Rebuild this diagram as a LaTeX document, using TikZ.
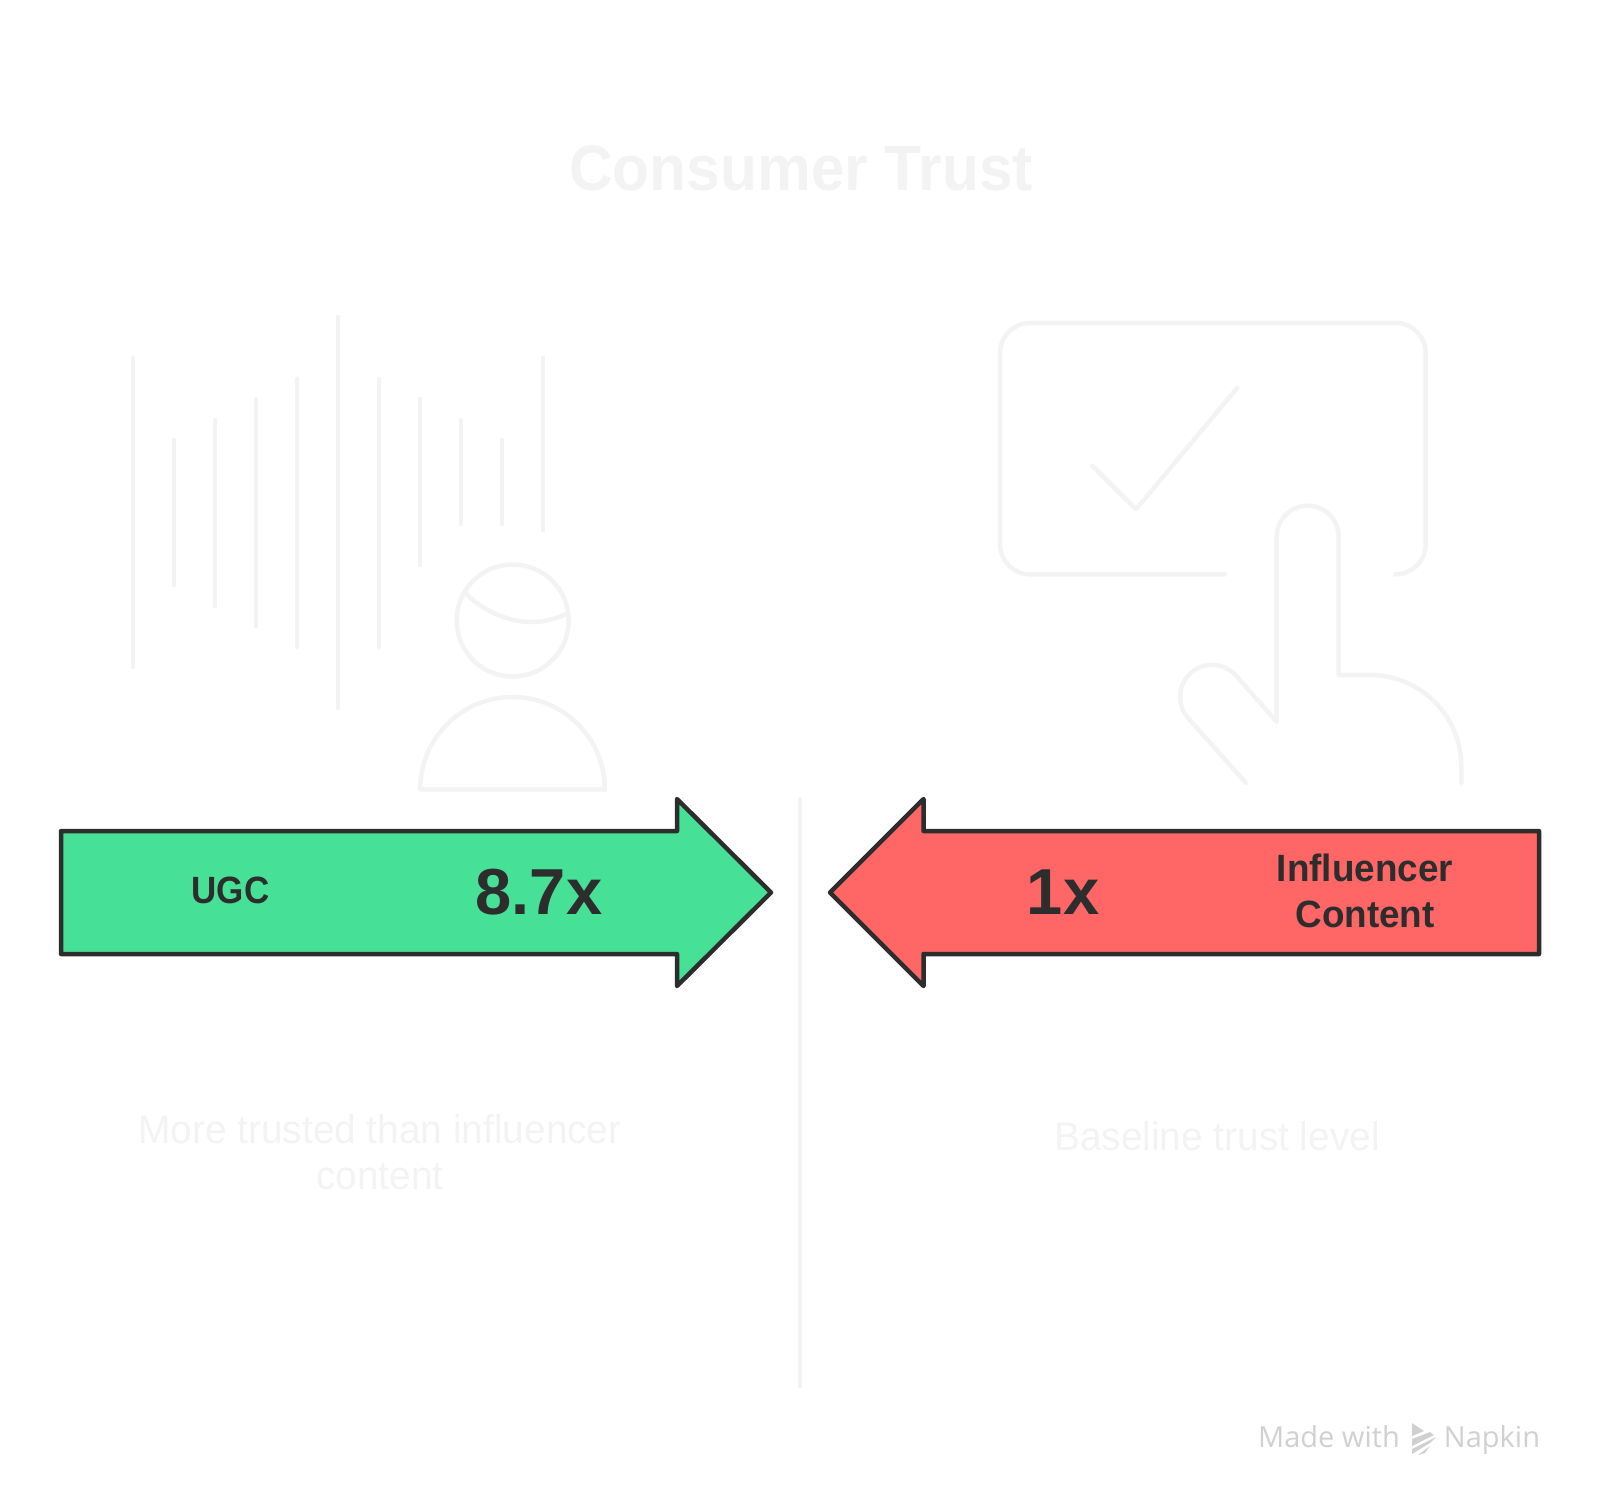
\documentclass[tikz,border=0pt]{standalone}
\usepackage{fontspec}
\usepackage{tikz}
\setmainfont{Liberation Sans}
\newfontfamily\narrowfont[FakeStretch=0.92]{Liberation Sans}
\newfontfamily\midfont[FakeStretch=0.945]{Liberation Sans}
\newfontfamily\widefont[FakeStretch=0.97]{Liberation Sans}
\newfontfamily\markfont{Open Sans}
\definecolor{ghost}{HTML}{F3F3F3}
\definecolor{ink}{HTML}{2D2D2D}
\definecolor{greenarrow}{HTML}{46E096}
\definecolor{redarrow}{HTML}{FF6666}
\definecolor{markgray}{HTML}{D0D0D0}
\tikzset{
    faint/.style={draw=ghost, line width=4.5pt, line cap=round, line join=round},
    bigarrow/.style={draw=ink, line width=4.5pt, line join=round},
    lbl/.style={inner sep=0pt, text=ink, align=center, font=\widefont\bfseries\fontsize{38}{46}\selectfont},
    bignum/.style={inner sep=0pt, text=ink, anchor=base, font=\bfseries\fontsize{65}{65}\selectfont},
    ghosttext/.style={inner sep=0pt, text=ghost, align=center, font=\widefont\fontsize{40}{46}\selectfont},
    marktext/.style={inner sep=0pt, text=markgray, anchor=base, font=\markfont\fontsize{29}{29}\selectfont}
}
\begin{document}
\begin{tikzpicture}[x=1pt, y=-1pt]
    \useasboundingbox (0,0) rectangle (1600,1508);

    \node[ghosttext, anchor=base, font=\midfont\bfseries\fontsize{64}{64}\selectfont] (title) at (801,190) {Consumer Trust};

    \foreach \x/\ya/\yb in {133/358/667, 174/440/585, 215/420/606, 256/399/626, 297/379/647, 338/317/708, 379/379/647, 420/399/565, 461/420/524, 502/440/524, 543/358/530}
        \draw[faint] (\x,\ya) -- (\x,\yb);

    \node[shape=circle, faint, minimum size=112pt, inner sep=0pt] (head) at (512.7,620.5) {};
    \draw[faint] (465,592.7) .. controls (490,618) and (530,632) .. (567.6,613.3);
    \draw[faint] (420.2,789.3) arc[start angle=180, end angle=360, radius=92.3] -- cycle;

    \draw[faint] (1225,574.3) -- (1030,574.3) arc[start angle=90, end angle=180, radius=30] -- (1000,353) arc[start angle=180, end angle=270, radius=30] -- (1395.7,323) arc[start angle=270, end angle=360, radius=30] -- (1425.7,544.3) arc[start angle=0, end angle=90, radius=30];
    \draw[faint] (1092.3,465.7) -- (1136,509.3) -- (1237.3,387.7);
    \draw[faint] (1245.7,782.7) -- (1188.3,718.3) arc[start angle=138, end angle=318, radius=32] -- (1276.7,721.7) -- (1276.7,536.7) arc[start angle=180, end angle=360, radius=31] -- (1338.7,675) -- (1370,675) arc[start angle=270, end angle=360, radius=91.3] -- (1461.3,782.7);

    \draw[faint] (800,799) -- (800,1386);

    \draw[bigarrow, fill=greenarrow] (61,831) -- (677,831) -- (677,799) -- (771,892.5) -- (677,986) -- (677,954) -- (61,954) -- cycle;
    \draw[bigarrow, fill=redarrow] (1539,831) -- (923.5,831) -- (923.5,799) -- (830,892.5) -- (923.5,986) -- (923.5,954) -- (1539,954) -- cycle;

    \node[lbl, font=\narrowfont\bfseries\fontsize{38}{46}\selectfont] (ugc) at (230.5,890.5) {UGC};
    \node[bignum] (ugcval) at (539,914) {8.7x};
    \node[bignum] (inflval) at (1063,914) {1x};
    \node[lbl] (infl) at (1365,891) {Influencer\\Content};

    \node[ghosttext] (ugcnote) at (380,1152) {More trusted than influencer\\content};
    \node[ghosttext, anchor=base] (inflnote) at (1217,1150) {Baseline trust level};

    \node[marktext] (made) at (1329,1447) {Made with};
    \node[marktext] (napkin) at (1492,1447) {Napkin};
    \fill[markgray] (1412,1423) -- (1424,1431) -- (1412,1436) -- cycle;
    \fill[markgray] (1412,1439) -- (1430,1432) -- (1434,1435) -- (1412,1446) -- cycle;
    \fill[markgray] (1412,1449) -- (1436,1437) -- (1430,1443) -- (1412,1454) -- cycle;
    \fill[markgray] (1418,1455) -- (1430,1446) -- (1425,1453) -- cycle;
\end{tikzpicture}
\end{document}
